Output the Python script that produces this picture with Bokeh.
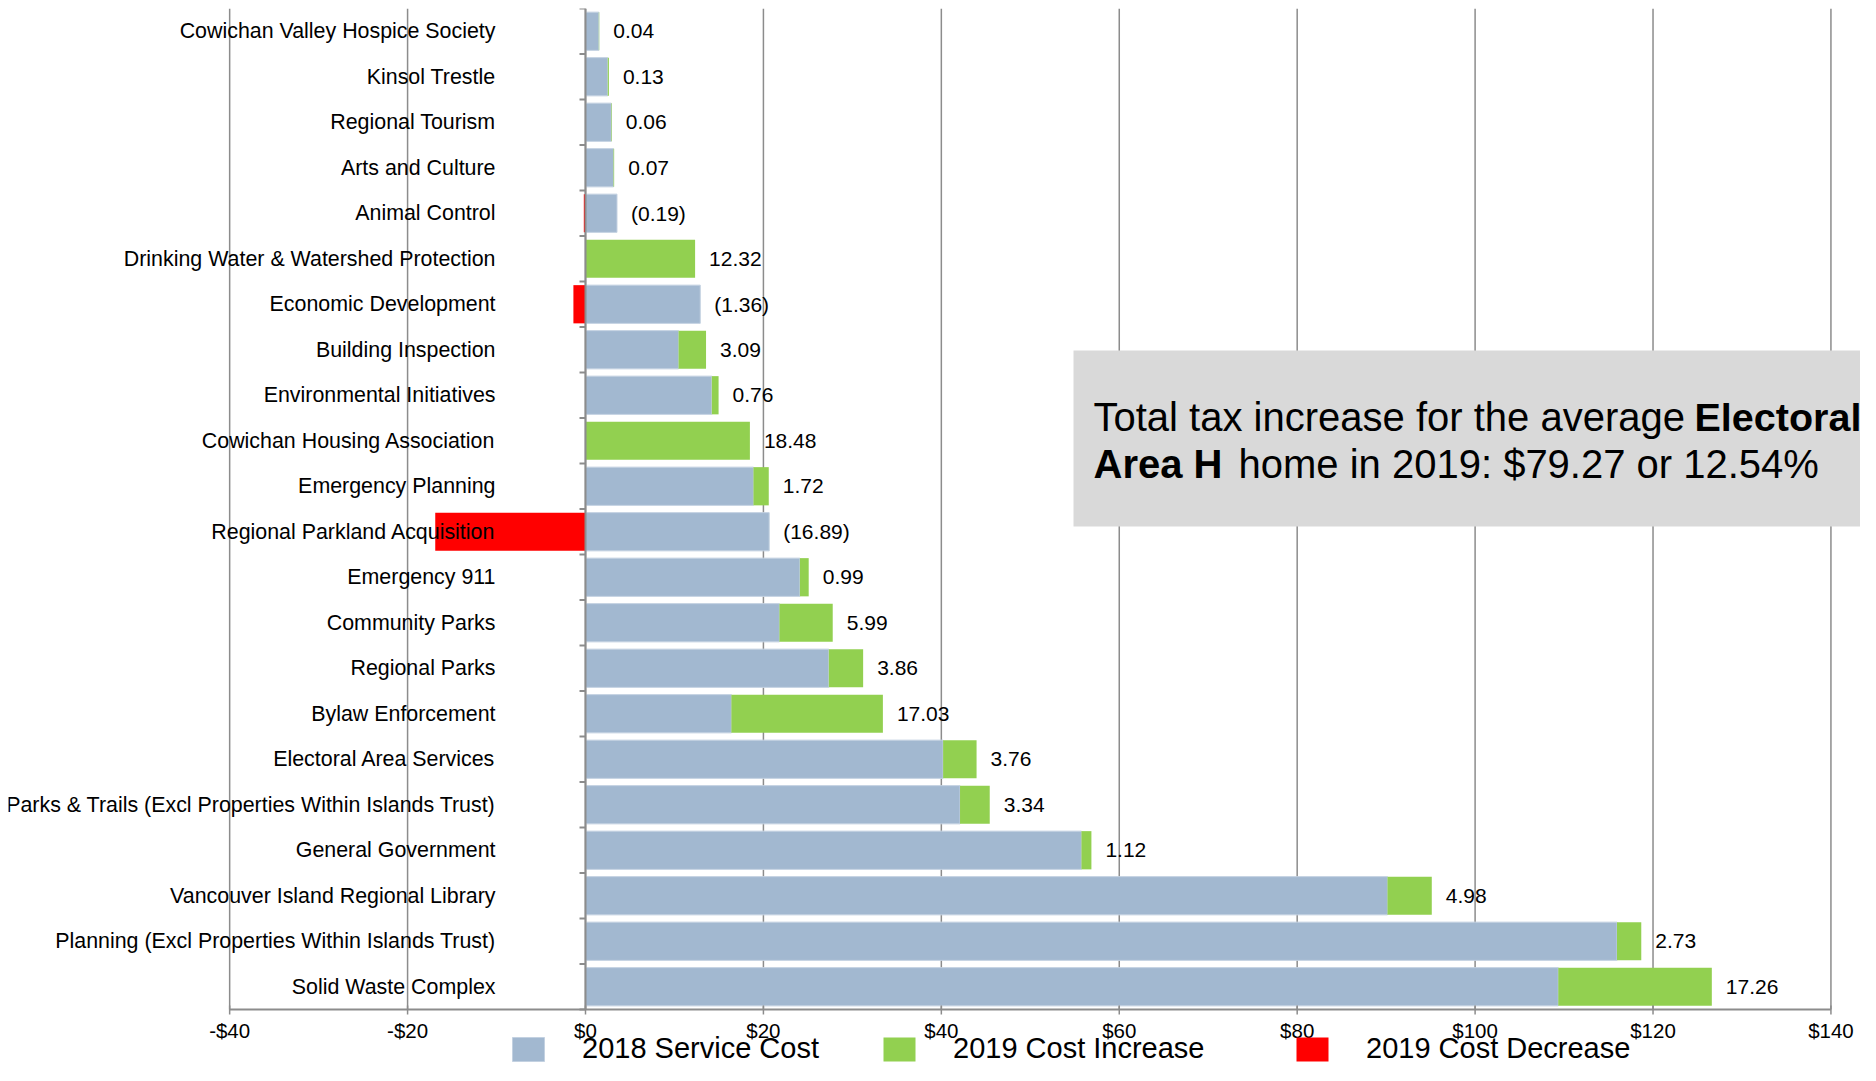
from bokeh.plotting import figure
from bokeh.models import ColumnDataSource, Range1d, Legend, LegendItem, BoxAnnotation, Label
from bokeh.core.properties import value
from bokeh.embed import file_html
from bokeh.resources import INLINE

categories = [
    "Cowichan Valley Hospice Society",
    "Kinsol Trestle",
    "Regional Tourism",
    "Arts and Culture",
    "Animal Control",
    "Drinking Water & Watershed Protection",
    "Economic Development",
    "Building Inspection",
    "Environmental Initiatives",
    "Cowichan Housing Association",
    "Emergency Planning",
    "Regional Parkland Acquisition",
    "Emergency 911",
    "Community Parks",
    "Regional Parks",
    "Bylaw Enforcement",
    "Electoral Area Services",
    "Parks & Trails (Excl Properties Within Islands Trust)",
    "General Government",
    "Vancouver Island Regional Library",
    "Planning (Excl Properties Within Islands Trust)",
    "Solid Waste Complex",
]
cost_2018 = [1.50, 2.50, 2.90, 3.15, 3.54, 0.0, 12.90, 10.46, 14.20, 0.0, 18.88,
             20.65, 24.10, 21.80, 27.35, 16.40, 40.20, 42.10, 55.75, 90.15, 115.95, 109.35]
change_2019 = [0.04, 0.13, 0.06, 0.07, -0.19, 12.32, -1.36, 3.09, 0.76, 18.48, 1.72,
               -16.89, 0.99, 5.99, 3.86, 17.03, 3.76, 3.34, 1.12, 4.98, 2.73, 17.26]
tick_values = [-40, -20, 0, 20, 40, 60, 80, 100, 120, 140]
tick_labels = ["-$40", "-$20", "$0", "$20", "$40", "$60", "$80", "$100", "$120", "$140"]
series_names = ["2018 Service Cost", "2019 Cost Increase", "2019 Cost Decrease"]
note_regular_1 = "Total tax increase for the average"
note_bold_1 = "Electoral"
note_bold_2 = "Area H"
note_regular_2 = "home in 2019: $79.27 or 12.54%"

BLUE = "#a2b8d0"
GREEN = "#92d050"
RED = "#ff0000"
GRID = "#8c8c8c"
FONT = "Liberation Sans"

W, H = 1860, 1065
TOP, LEFT = 8, 8
ROW_PX = 45.5           # pixel height of one category row
PX_PER_UNIT = 8.896     # pixels per dollar
ZERO_PX = 585           # x pixel of $0

n = len(categories)
idx = list(range(n))
inc_right = [b + max(c, 0) for b, c in zip(cost_2018, change_2019)]
dec_left = [min(c, 0) for c in change_2019]
label_x = [max(b, r) for b, r in zip(cost_2018, inc_right)]
labels = [f"{c:.2f}" if c >= 0 else f"({-c:.2f})" for c in change_2019]

src = ColumnDataSource(dict(
    y=idx, cat=categories, base=cost_2018, inc_right=inc_right,
    dec=dec_left, zero=[0] * n, label_x=label_x, label=labels,
))

frame_w = W - LEFT
frame_h = H - TOP
x_start = -(ZERO_PX - LEFT) / PX_PER_UNIT
x_end = x_start + frame_w / PX_PER_UNIT
y_top = -0.5
y_bottom = y_top + frame_h / ROW_PX
axis_y = n - 0.5


def dy(px):
    return px / ROW_PX


def dx(px):
    return px / PX_PER_UNIT


def row_at(pix):
    return (pix - TOP) / ROW_PX - 0.5


def x_at(pix):
    return (pix - ZERO_PX) / PX_PER_UNIT


p = figure(width=W, height=H,
           x_range=Range1d(x_start, x_end), y_range=Range1d(y_bottom, y_top),
           output_backend="svg", toolbar_location=None,
           x_axis_location=None, y_axis_location=None,
           min_border_left=LEFT, min_border_right=0, min_border_top=TOP, min_border_bottom=0)
p.outline_line_color = None
p.xgrid.grid_line_color = None
p.ygrid.grid_line_color = None

# vertical gridlines (down to the value axis)
p.segment(x0=tick_values, x1=tick_values, y0=[y_top] * len(tick_values),
          y1=[axis_y] * len(tick_values), line_color=GRID, line_width=1.5)

# bars
blue_r = p.hbar(y="y", left="zero", right="base", height=0.84, source=src,
                fill_color=BLUE, line_color="#c3d1e1", line_width=1)
green_r = p.hbar(y="y", left="base", right="inc_right", height=0.84, source=src,
                 fill_color=GREEN, line_color=None)
red_r = p.hbar(y="y", left="dec", right="zero", height=0.84, source=src,
               fill_color=RED, line_color=None)

# category axis at $0 with boundary ticks
p.segment(x0=[0], x1=[0], y0=[y_top], y1=[axis_y], line_color=GRID, line_width=2)
bounds = [k - 0.5 for k in range(n + 1)]
p.segment(x0=[-dx(6)] * len(bounds), x1=[0] * len(bounds), y0=bounds, y1=bounds,
          line_color=GRID, line_width=2)

# value axis: line, ticks, labels
p.segment(x0=[tick_values[0]], x1=[tick_values[-1]], y0=[axis_y], y1=[axis_y],
          line_color=GRID, line_width=2)
p.segment(x0=tick_values, x1=tick_values, y0=[axis_y - dy(4)] * len(tick_values),
          y1=[axis_y + dy(5)] * len(tick_values), line_color=GRID, line_width=1.5)
p.text(x=tick_values, y=[axis_y + dy(20.5)] * len(tick_values), text=tick_labels,
       text_align="center", text_baseline="middle",
       text_font=value(FONT), text_font_size="20.5px", text_color="black")

# category labels
p.text(x="zero", y="y", text="cat", source=src, x_offset=-90,
       text_align="right", text_baseline="middle",
       text_font=value(FONT), text_font_size="21.4px", text_color="black")

# value labels
p.text(x="label_x", y="y", text="label", source=src, x_offset=14,
       text_align="left", text_baseline="middle",
       text_font=value(FONT), text_font_size="21px", text_color="black")

# note box
p.add_layout(BoxAnnotation(left=x_at(1073), right=x_end, top=row_at(350), bottom=row_at(526),
                           fill_color="#d9d9d9", fill_alpha=1, line_alpha=0))
for txt, yp, xo, style, fs in [(note_regular_1, 416, 0, "normal", "40px"),
                               (note_bold_1, 416, 601, "bold", "39.5px"),
                               (note_bold_2, 463, 0, "bold", "40px"),
                               (note_regular_2, 463, 145, "normal", "40px")]:
    p.add_layout(Label(x=x_at(1093), y=row_at(yp), x_offset=xo, text=txt, text_font=FONT,
                       text_font_size=fs, text_font_style=style,
                       text_color="black", text_baseline="alphabetic", text_align="left"))

# legends (inside the frame, at the bottom); the swatch is inset 10% of the glyph box
for name, r, lx in zip(series_names, [blue_r, green_r, red_r], [512, 883, 1296]):
    leg = Legend(items=[LegendItem(label=value(name), renderers=[r])],
                 location=(lx - LEFT - 4, 0), orientation="horizontal",
                 glyph_width=40, glyph_height=30, label_height=30, label_standoff=34,
                 padding=0, margin=0, border_line_alpha=0, background_fill_alpha=0,
                 label_text_font=FONT, label_text_font_size="29px",
                 label_text_baseline="middle", label_text_color="black")
    p.add_layout(leg)

open("out.html", "w").write(file_html(p, INLINE))
